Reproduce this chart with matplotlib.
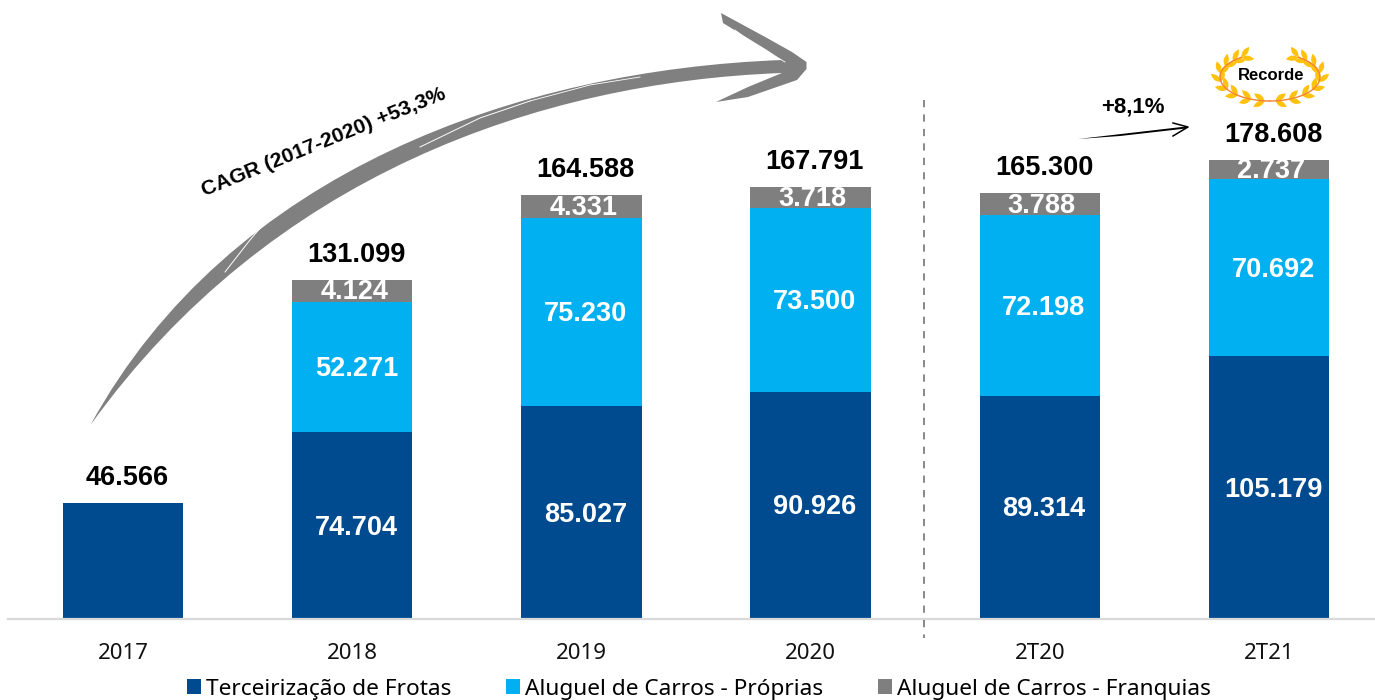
import numpy as np
import matplotlib
matplotlib.use("Agg")
import matplotlib.pyplot as plt
from matplotlib.patches import Polygon, PathPatch
from matplotlib.path import Path

plt.rcParams['font.family'] = ['Noto Sans', 'DejaVu Sans']

periods = ["2017", "2018", "2019", "2020", "2T20", "2T21"]
frotas = [46566, 74704, 85027, 90926, 89314, 105179]
proprias = [0, 52271, 75230, 73500, 72198, 70692]
franquias_altura = [0, 8800, 9200, 8400, 8800, 7600]
franquias = [0, 4124, 4331, 3718, 3788, 2737]
totais = ["46.566", "131.099", "164.588", "167.791", "165.300", "178.608"]
lbl_frotas = ["", "74.704", "85.027", "90.926", "89.314", "105.179"]
lbl_proprias = ["", "52.271", "75.230", "73.500", "72.198", "70.692"]
lbl_franquias = ["", "4.124", "4.331", "3.718", "3.788", "2.737"]

AZUL = "#004A8F"
CIANO = "#00B0F0"
CINZA = "#7F7F7F"
NEGRITO = "Liberation Sans"

W, H = 1375, 700
BASE = 619
fig = plt.figure(figsize=(W / 100, H / 100), dpi=100)
ax = fig.add_axes([0, (H - BASE) / H, 1, BASE / H])

x = np.arange(len(periods))
bottom2 = np.array(frotas)
bottom3 = bottom2 + np.array(proprias)
b1 = ax.bar(x, frotas, 0.525, color=AZUL, label="Terceirização de Frotas")
b2 = ax.bar(x, proprias, 0.525, bottom=bottom2, color=CIANO, label="Aluguel de Carros - Próprias")
b3 = ax.bar(x, franquias_altura, 0.525, bottom=bottom3, color=CINZA, label="Aluguel de Carros - Franquias")

ax.set_xlim(-123 / 229.2, (W - 123) / 229.2)
ax.set_ylim(0, BASE / 0.0025)
for s in ["top", "left", "right"]:
    ax.spines[s].set_visible(False)
ax.spines["bottom"].set_color("#D9D9D9")
ax.spines["bottom"].set_linewidth(1.6)
ax.spines["bottom"].set_bounds((8 - 123) / 229.2, (W - 123) / 229.2)
ax.set_yticks([])
ax.set_xticks(x)
ax.set_xticklabels(periods, fontsize=16, color="#111111")
ax.tick_params(axis="x", length=0, pad=17)

bold = dict(ha="center", va="center", fontsize=19.5, fontweight="bold", family=NEGRITO)
for i in x:
    top = bottom3[i] + franquias_altura[i]
    ax.annotate(totais[i], (i, top), xytext=(3, 18), textcoords="offset points", color="black", **bold)
    if i == 0:
        continue
    ax.annotate(lbl_frotas[i], (i, frotas[i] / 2), xytext=(3, -1.5), textcoords="offset points", color="white", **bold)
    ax.annotate(lbl_proprias[i], (i, bottom2[i] + proprias[i] / 2), xytext=(3, -1.5), textcoords="offset points",
                color="white", **bold)
    ax.annotate(lbl_franquias[i], (i, bottom3[i] + franquias_altura[i] / 2), xytext=(1.5, -1),
                textcoords="offset points", color="white", **bold)

fig.legend(handles=[b1, b2, b3], loc="center", bbox_to_anchor=(699 / W, 1 - 689 / H), ncol=3, frameon=False,
           fontsize=16.3, handlelength=0.62, handleheight=0.62, handletextpad=0.22, columnspacing=2.42)

# overlay in pixel coordinates for the hand drawn arrows, wreath and divider
ov = fig.add_axes([0, 0, 1, 1], facecolor="none")
ov.set_xlim(0, W)
ov.set_ylim(H, 0)
ov.axis("off")

ov.plot([924, 924], [100, 638], color="#7F7F7F", lw=1.3, ls=(0, (4, 4)))

verts = [(90.5, 425), (230, 170), (520, 70), (782, 60),
         (767, 50), (723, 23), (721, 13), (767, 38), (792, 52), (806.5, 62),
         (806.5, 69), (797, 80), (748, 97), (716, 102), (748, 87), (782, 73),
         (540, 82), (270, 175), (90.5, 425)]
codes = [Path.MOVETO, Path.CURVE4, Path.CURVE4, Path.CURVE4] + [Path.LINETO] * 12 + [Path.CURVE4] * 3
ov.add_patch(PathPatch(Path(verts, codes), facecolor="#808080", edgecolor="none"))
ov.plot([225, 250, 262], [272, 240, 226], color="white", lw=0.7)
ov.plot([420, 480, 530], [147, 118, 101], color="white", lw=0.7)
ov.plot([530, 590, 640], [101, 85, 77], color="white", lw=0.6)
ov.plot([735, 755, 785], [30, 45, 62], color="white", lw=0.6)

ov.text(324, 142, "CAGR (2017-2020) +53,3%", rotation=22, ha="center", va="center", fontsize=15.2,
        fontweight="bold", family=NEGRITO, color="black", rotation_mode="anchor")

seta2 = [(1078, 139), (1186, 126.5), (1186, 128.5), (1120, 136)]
ov.add_patch(Polygon(seta2, closed=True, color="black", lw=0))
ov.plot([1173, 1188, 1173], [123, 127, 136], color="black", lw=1.1)
ov.text(1133, 107, "+8,1%", ha="center", va="center", fontsize=16, fontweight="bold", family=NEGRITO, color="black")

# laurel wreath
cx, cy = 1270, 76
for side in [-1, 1]:
    t = np.linspace(np.radians(-90), np.radians(55), 40)
    ov.plot(cx + side * 50 * np.cos(t), cy + 1 - 24 * np.sin(t), color="#F58233", lw=1, zorder=2)
    for a in np.radians([-84, -68, -50, -32, -12, 8, 26, 42, 55]):
        px, py = cx + side * 50 * np.cos(a), cy + 1 - 24 * np.sin(a)
        tang = np.array([-side * np.sin(a) * 50, -24 * np.cos(a)])
        tang = tang / np.hypot(*tang)
        norm = np.array([np.cos(a) * side, -np.sin(a)])
        for k in [-1, 1]:
            d = tang + 0.6 * k * norm
            d = d / np.hypot(*d)
            n = np.array([-d[1], d[0]])
            L = 13
            s = np.linspace(0, 1, 12)
            w = 2.6 * np.sin(np.pi * s)
            up = np.column_stack([px + d[0] * L * s + n[0] * w, py + d[1] * L * s + n[1] * w])
            dn = np.column_stack([px + d[0] * L * s - n[0] * w, py + d[1] * L * s - n[1] * w])
            ov.add_patch(Polygon(np.vstack([up, dn[::-1]]), closed=True, color="#FFC20E", lw=0, zorder=1))
ov.text(1271, 75, "Recorde", ha="center", va="center", fontsize=12, fontweight="bold", family=NEGRITO,
        color="black", zorder=3)

fig.savefig("out.png", dpi=100)
